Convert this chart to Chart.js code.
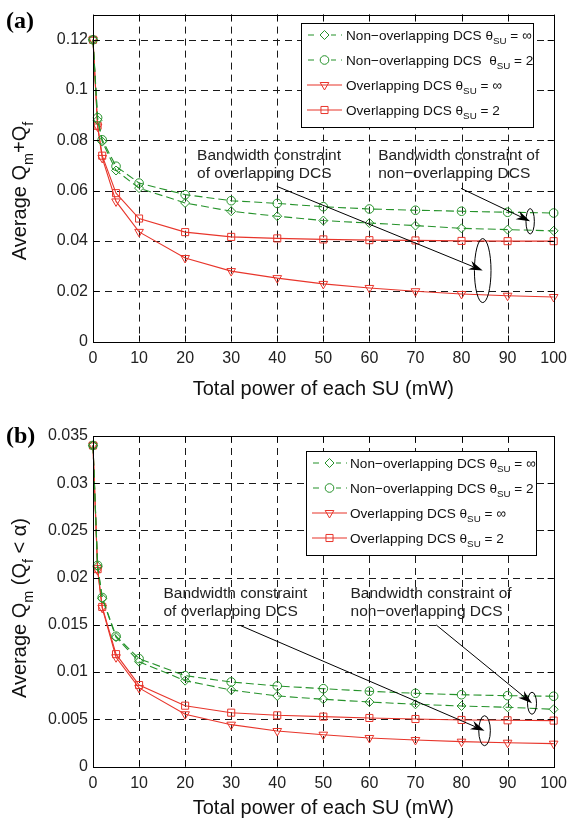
<!DOCTYPE html>
<html>
<head>
<meta charset="utf-8">
<script src="https://cdn.jsdelivr.net/npm/chart.js@4.4.0/dist/chart.umd.min.js"></script>
<style>
  html, body { margin: 0; padding: 0; background: #fff; }
  .panel { width: 574px; height: 409px; }
  canvas { display: block; }
</style>
</head>
<body>
<div class="panel"><canvas id="chartA" width="574" height="409"></canvas></div>
<div class="panel"><canvas id="chartB" width="574" height="409"></canvas></div>
<script>
// --- data ---
const powerMw = [0, 1, 2, 5, 10, 20, 30, 40, 50, 60, 70, 80, 90, 100];
const xTickValues = [0, 10, 20, 30, 40, 50, 60, 70, 80, 90, 100];

const aSeriesLabels = [
  'Non\u2212overlapping DCS \u03b8_{SU} = \u221e',
  'Non\u2212overlapping DCS  \u03b8_{SU} = 2',
  'Overlapping DCS \u03b8_{SU} = \u221e',
  'Overlapping DCS \u03b8_{SU} = 2'
];
const bSeriesLabels = [
  'Non\u2212overlapping DCS \u03b8_{SU} = \u221e',
  'Non\u2212overlapping DCS \u03b8_{SU} = 2',
  'Overlapping DCS \u03b8_{SU} = \u221e',
  'Overlapping DCS \u03b8_{SU} = 2'
];

// panel (a): average Qm + Qf
const aNonOverlapInf = [0.12, 0.088, 0.0795, 0.068, 0.061, 0.0551, 0.0518, 0.0498, 0.0481, 0.0471, 0.0461, 0.045, 0.0445, 0.044];
const aNonOverlap2   = [0.12, 0.089, 0.0802, 0.0697, 0.063, 0.0584, 0.056, 0.0549, 0.0536, 0.0527, 0.0522, 0.0518, 0.0514, 0.0511];
const aOverlapInf    = [0.12, 0.0855, 0.073, 0.0557, 0.0436, 0.0332, 0.028, 0.0252, 0.0229, 0.0213, 0.02, 0.0189, 0.0182, 0.0177];
const aOverlap2      = [0.12, 0.0858, 0.0739, 0.059, 0.0489, 0.0435, 0.0416, 0.041, 0.0406, 0.0403, 0.0402, 0.04, 0.0399, 0.0399];
const aYTicks = [0, 0.02, 0.04, 0.06, 0.08, 0.1, 0.12];

// panel (b): average Qm (Qf < alpha)
const bNonOverlapInf = [0.034, 0.0212, 0.0178, 0.0137, 0.0111, 0.00909, 0.0081, 0.00747, 0.00712, 0.00683, 0.00659, 0.00641, 0.00627, 0.00606];
const bNonOverlap2   = [0.034, 0.0213, 0.0179, 0.0138, 0.01142, 0.00962, 0.00895, 0.00853, 0.00824, 0.00797, 0.00775, 0.0076, 0.0075, 0.00744];
const bOverlapInf    = [0.034, 0.0208, 0.0168, 0.01157, 0.00832, 0.00553, 0.00443, 0.00376, 0.00337, 0.00302, 0.00281, 0.00263, 0.00252, 0.00242];
const bOverlap2      = [0.034, 0.0209, 0.0169, 0.0119, 0.00863, 0.00644, 0.0057, 0.00542, 0.00528, 0.00514, 0.00503, 0.00493, 0.00489, 0.00486];
const bYTicks = [0, 0.005, 0.01, 0.015, 0.02, 0.025, 0.03, 0.035];

// --- styles ---
const GREEN = '#25922a';
const RED = '#e8352b';
const FONT = '"Liberation Sans", Arial, Helvetica, sans-serif';
const seriesStyles = [
  { color: GREEN, dash: [8, 4], marker: 'rectRot', rot: 0, radius: 4.5 },
  { color: GREEN, dash: [8, 4], marker: 'circle', rot: 0, radius: 4.3 },
  { color: RED, dash: [], marker: 'triangle', rot: 180, radius: 5 },
  { color: RED, dash: [], marker: 'rect', rot: 0, radius: 5 }
];

// --- text helpers (subscripts written as _{..}) ---
function parseRich(str) {
  return str.split(/(_\{[^}]*\})/).filter(s => s).map(s =>
    s.startsWith('_{') ? { t: s.slice(2, -1), sub: true } : { t: s, sub: false });
}
function richWidth(ctx, parts, size) {
  let w = 0;
  parts.forEach(p => { ctx.font = `${p.sub ? size * 0.72 : size}px ${FONT}`; w += ctx.measureText(p.t).width; });
  return w;
}
function drawRich(ctx, str, x, y, size, align) {
  const parts = parseRich(str);
  let cx = align === 'center' ? x - richWidth(ctx, parts, size) / 2 : x;
  ctx.textAlign = 'left';
  ctx.textBaseline = 'alphabetic';
  parts.forEach(p => {
    ctx.font = `${p.sub ? size * 0.72 : size}px ${FONT}`;
    ctx.fillText(p.t, cx, y + (p.sub ? size * 0.33 : 0));
    cx += ctx.measureText(p.t).width;
  });
}
function arrow(ctx, x1, y1, x2, y2) {
  const ang = Math.atan2(y2 - y1, x2 - x1), L = 14, W = 4.5;
  const c = Math.cos(ang), s = Math.sin(ang);
  ctx.beginPath();
  ctx.moveTo(x1, y1);
  ctx.lineTo(x2 - c * L * 0.7, y2 - s * L * 0.7);
  ctx.stroke();
  ctx.beginPath();
  ctx.moveTo(x2, y2);
  ctx.lineTo(x2 - L * c + W * s, y2 - L * s - W * c);
  ctx.lineTo(x2 - L * 0.7 * c, y2 - L * 0.7 * s);
  ctx.lineTo(x2 - L * c - W * s, y2 - L * s + W * c);
  ctx.closePath();
  ctx.fill();
}

// --- matlab look: dashed grid, inner ticks, box, legend, annotations ---
const matlabPlugin = {
  id: 'matlab',
  beforeDatasetsDraw(chart, args, o) {
    const { ctx, chartArea: a, scales: { x, y } } = chart;
    ctx.save();
    ctx.strokeStyle = '#1a1a1a';
    ctx.lineWidth = 1;
    ctx.setLineDash([7, 5]);
    x.ticks.forEach(t => {
      const px = Math.round(x.getPixelForValue(t.value)) + 0.5;
      if (px < a.left + 2 || px > a.right - 2) return;
      ctx.beginPath(); ctx.moveTo(px, a.top); ctx.lineTo(px, a.bottom); ctx.stroke();
    });
    y.ticks.forEach(t => {
      const py = Math.round(y.getPixelForValue(t.value)) + 0.5;
      if (py < a.top + 2 || py > a.bottom - 2) return;
      ctx.beginPath(); ctx.moveTo(a.left, py); ctx.lineTo(a.right, py); ctx.stroke();
    });
    ctx.restore();
  },
  afterDatasetsDraw(chart, args, o) {
    const { ctx, chartArea: a, scales: { x, y } } = chart;
    ctx.save();
    ctx.strokeStyle = '#000';
    ctx.fillStyle = '#000';
    ctx.lineWidth = 1;
    ctx.setLineDash([]);

    // inner tick marks
    const tl = 6;
    x.ticks.forEach(t => {
      const px = Math.round(x.getPixelForValue(t.value)) + 0.5;
      ctx.beginPath();
      ctx.moveTo(px, a.bottom); ctx.lineTo(px, a.bottom - tl);
      ctx.moveTo(px, a.top); ctx.lineTo(px, a.top + tl);
      ctx.stroke();
    });
    y.ticks.forEach(t => {
      const py = Math.round(y.getPixelForValue(t.value)) + 0.5;
      ctx.beginPath();
      ctx.moveTo(a.left, py); ctx.lineTo(a.left + tl, py);
      ctx.moveTo(a.right, py); ctx.lineTo(a.right - tl, py);
      ctx.stroke();
    });
    // box
    ctx.strokeRect(Math.round(a.left) + 0.5, Math.round(a.top) + 0.5,
      Math.round(a.right - a.left), Math.round(a.bottom - a.top));

    // annotations
    ctx.fillStyle = '#222';
    o.texts.forEach(tx => {
      ctx.font = `15.5px ${FONT}`;
      ctx.textAlign = 'left';
      ctx.textBaseline = 'middle';
      tx.lines.forEach((line, i) => {
        ctx.fillText(line, x.getPixelForValue(tx.x), y.getPixelForValue(tx.y) + i * 18.5);
      });
    });
    ctx.fillStyle = '#000';
    o.arrows.forEach(ar => {
      arrow(ctx, x.getPixelForValue(ar.from[0]), y.getPixelForValue(ar.from[1]),
        x.getPixelForValue(ar.to[0]), y.getPixelForValue(ar.to[1]));
    });
    o.ellipses.forEach(el => {
      ctx.beginPath();
      ctx.ellipse(x.getPixelForValue(el.x), y.getPixelForValue(el.y), el.rx, el.ry, 0, 0, Math.PI * 2);
      ctx.stroke();
    });

    // legend
    const lg = o.legend;
    ctx.fillStyle = '#fff';
    ctx.fillRect(lg.left, lg.top, lg.width, lg.height);
    ctx.strokeStyle = '#000';
    ctx.strokeRect(lg.left + 0.5, lg.top + 0.5, lg.width, lg.height);
    chart.data.datasets.forEach((ds, i) => {
      const st = seriesStyles[i];
      const ry = lg.top + lg.firstRow + i * lg.rowGap;
      ctx.strokeStyle = st.color;
      ctx.lineWidth = 1.1;
      ctx.setLineDash(st.dash.length ? [6, 5] : []);
      ctx.lineDashOffset = st.dash.length ? -1 : 0;
      ctx.beginPath(); ctx.moveTo(lg.left + 6, ry); ctx.lineTo(lg.left + 41, ry); ctx.stroke();
      ctx.setLineDash([]);
      if (st.dash.length) {
        ctx.fillStyle = '#fff';
        ctx.fillRect(lg.left + 17, ry - 5, 13, 10);
      }
      ctx.fillStyle = 'rgba(0,0,0,0)';
      ctx.strokeStyle = st.color;
      ctx.lineWidth = 1;
      Chart.helpers.drawPoint(ctx, { pointStyle: st.marker, rotation: st.rot, radius: st.radius, borderWidth: 1 },
        lg.left + 23.5, ry);
      ctx.fillStyle = '#111';
      drawRich(ctx, ds.label, lg.left + lg.textX, ry + 5, 13.6, 'left');
    });

    // axis titles and panel tag
    ctx.fillStyle = '#111';
    drawRich(ctx, 'Total power of each SU (mW)', (a.left + a.right) / 2, o.xTitleY, 20, 'center');
    ctx.save();
    ctx.translate(26, o.yTitleY);
    ctx.rotate(-Math.PI / 2);
    drawRich(ctx, o.yTitle, 0, 0, 20, 'center');
    ctx.restore();
    ctx.fillStyle = '#000';
    ctx.font = `bold 24px "Liberation Serif", "Times New Roman", serif`;
    ctx.textAlign = 'left';
    ctx.textBaseline = 'alphabetic';
    ctx.fillText(o.tag, 6, o.tagY);
    ctx.restore();
  }
};

function buildSets(seriesValues, labels) {
  return seriesValues.map((vals, i) => {
    const st = seriesStyles[i];
    return {
      label: labels[i],
      data: powerMw.map((p, j) => ({ x: p, y: vals[j] })),
      borderColor: st.color,
      borderWidth: 1.1,
      borderDash: st.dash,
      pointStyle: st.marker,
      pointRotation: st.rot,
      pointRadius: st.radius,
      pointBorderWidth: 1,
      pointBorderColor: st.color,
      pointBackgroundColor: 'rgba(0,0,0,0)',
      tension: 0,
      fill: false,
      clip: false
    };
  });
}

function makeChart(id, seriesValues, labels, yMax, yTicks, pad, axisH, extra) {
  return new Chart(document.getElementById(id), {
    type: 'line',
    data: { datasets: buildSets(seriesValues, labels) },
    options: {
      responsive: false,
      animation: false,
      events: [],
      layout: { padding: { top: pad, right: 18, bottom: 0, left: 0 } },
      scales: {
        x: {
          type: 'linear', min: 0, max: 100,
          afterBuildTicks: s => { s.ticks = xTickValues.map(v => ({ value: v })); },
          afterFit: s => { s.height = axisH; },
          grid: { display: false, drawTicks: false },
          border: { display: false },
          ticks: { padding: 7, color: '#222', font: { family: FONT, size: 16 }, maxRotation: 0 }
        },
        y: {
          min: 0, max: yMax,
          afterBuildTicks: s => { s.ticks = yTicks.map(v => ({ value: v })); },
          afterFit: s => { s.width = 93; },
          grid: { display: false, drawTicks: false },
          border: { display: false },
          ticks: {
            padding: 5, color: '#222', font: { family: FONT, size: 16 },
            callback: v => String(+Number(v).toFixed(4))
          }
        }
      },
      plugins: {
        legend: { display: false },
        tooltip: { enabled: false },
        matlab: extra
      }
    },
    plugins: [matlabPlugin]
  });
}

makeChart('chartA', [aNonOverlapInf, aNonOverlap2, aOverlapInf, aOverlap2], aSeriesLabels, 0.13, aYTicks, 12, 67.5, {
  tag: '(a)', tagY: 28,
  yTitle: 'Average Q_{m}+Q_{f}', yTitleY: 191,
  xTitleY: 395,
  legend: { left: 301, top: 23, width: 232, height: 104, firstRow: 12, rowGap: 25, textX: 45 },
  texts: [
    { x: 22.6, y: 0.0739, lines: ['Bandwidth constraint', 'of overlapping DCS'] },
    { x: 61.9, y: 0.0739, lines: ['Bandwidth constraint of', 'non\u2212overlapping DCS'] }
  ],
  arrows: [
    { from: [39.9, 0.0617], to: [84.6, 0.0282] },
    { from: [79.9, 0.0609], to: [94.9, 0.0478] }
  ],
  ellipses: [
    { x: 84.6, y: 0.0282, rx: 8.3, ry: 32 },
    { x: 94.9, y: 0.0478, rx: 4.2, ry: 12.7 }
  ]
});

makeChart('chartB', [bNonOverlapInf, bNonOverlap2, bOverlapInf, bOverlap2], bSeriesLabels, 0.035, bYTicks, 27, 51.5, {
  tag: '(b)', tagY: 34,
  yTitle: 'Average Q_{m} (Q_{f} < \u03b1)', yTitleY: 199,
  xTitleY: 405,
  legend: { left: 306, top: 42, width: 230, height: 104, firstRow: 12, rowGap: 25, textX: 44 },
  texts: [
    { x: 15.3, y: 0.01835, lines: ['Bandwidth constraint', 'of overlapping DCS'] },
    { x: 55.9, y: 0.01835, lines: ['Bandwidth constraint of', 'non\u2212overlapping DCS'] }
  ],
  arrows: [
    { from: [32.05, 0.01492], to: [85.0, 0.00379] },
    { from: [74.5, 0.01499], to: [95.3, 0.0067] }
  ],
  ellipses: [
    { x: 85.0, y: 0.00379, rx: 5.8, ry: 15 },
    { x: 95.3, y: 0.0067, rx: 4.5, ry: 11 }
  ]
});
</script>
</body>
</html>
